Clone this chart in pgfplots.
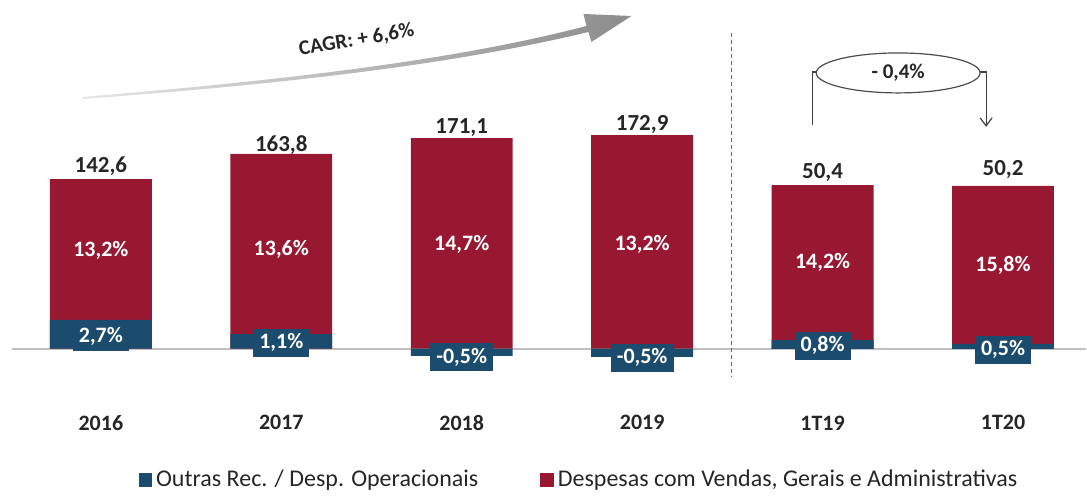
\documentclass[border=0pt]{standalone}
\usepackage{fontspec}
\setmainfont{Carlito}
\usepackage{pgfplots}
\pgfplotsset{compat=1.18}
\usetikzlibrary{arrows.meta}
\definecolor{bred}{RGB}{152,24,50}
\definecolor{bblue}{RGB}{27,76,110}
\definecolor{txt}{RGB}{38,38,38}
\pgfplotsset{base/.style={scale only axis, width=543.5pt, height=248.5pt,
  xmin=-0.559, xmax=5.46, axis lines=none, clip=false,
  ybar, bar width=51pt, bar shift=0pt}}
\tikzset{
  tot/.style={font=\fontsize{11.5}{12}\selectfont\bfseries, text=txt},
  pct/.style={font=\fontsize{11}{12}\selectfont\bfseries, text=white},
  bbox/.style={font=\fontsize{11}{12}\selectfont\bfseries, text=white, fill=bblue, inner xsep=3pt, inner ysep=2.5pt},
  yr/.style={font=\fontsize{11}{12}\selectfont\bfseries, text=txt}
}
\begin{document}
\begin{tikzpicture}
\begin{axis}[base, ymin=-124.4, ymax=293.3,
  legend style={at={(0.534,0.034)}, anchor=center, draw=none, fill=none,
    font=\fontsize{12}{13}\selectfont, text=txt, legend columns=2,
    /tikz/every even column/.append style={column sep=29pt}},
  legend image code/.code={\fill[#1] (0pt,-3.2pt) rectangle (6.4pt,3.2pt);}]
\path (rel axis cs:0,0) rectangle (rel axis cs:1,1);
\addlegendimage{bblue}\addlegendentry{Outras Rec. / Desp. Operacionais}
\addlegendimage{bred}\addlegendentry{Despesas com Vendas, Gerais e Administrativas}
\draw[black!25, line width=1pt] (axis cs:-0.493,0) -- (axis cs:5.46,0);
\addplot[fill=bred, draw=none, forget plot] table {
x y
0 142.6
1 163.8
2 177.1
3 179.7
};
\addplot[fill=bblue, draw=none, forget plot] table {
x y
0 24.2
1 12.3
2 -6.0
3 -6.8
};
\node[tot] at (axis cs:0,153.8) {142,6};
\node[tot] at (axis cs:1,171.4) {163,8};
\node[tot] at (axis cs:2,185.7) {171,1};
\node[tot] at (axis cs:3,188.2) {172,9};
\node[pct] at (axis cs:0,82.4) {13,2\%};
\node[pct] at (axis cs:1,83.2) {13,6\%};
\node[pct] at (axis cs:2,87.4) {14,7\%};
\node[pct] at (axis cs:3,87.4) {13,2\%};
\node[bbox] at (axis cs:0,10.1) {2,7\%};
\node[bbox] at (axis cs:1,5.0) {1,1\%};
\node[bbox] at (axis cs:2,-7.2) {-0,5\%};
\node[bbox] at (axis cs:3,-7.6) {-0,5\%};
\node[yr] at (axis cs:0,-62.2) {2016};
\node[yr] at (axis cs:1,-62.2) {2017};
\node[yr] at (axis cs:2,-62.2) {2018};
\node[yr] at (axis cs:3,-62.2) {2019};
\end{axis}
\begin{axis}[base, ymin=-45.5, ymax=107.4]
\addplot[fill=bred, draw=none] table {
x y
4 50.4
5 50.2
};
\addplot[fill=bblue, draw=none] table {
x y
4 2.69
5 1.54
};
\node[tot] at (axis cs:4,54.2) {50,4};
\node[tot] at (axis cs:5,55.1) {50,2};
\node[pct] at (axis cs:4,26.5) {14,2\%};
\node[pct] at (axis cs:5,25.8) {15,8\%};
\node[bbox] at (axis cs:4,0.9) {0,8\%};
\node[bbox] at (axis cs:5,-0.3) {0,5\%};
\node[yr] at (axis cs:4,-22.8) {1T19};
\node[yr] at (axis cs:5,-22.8) {1T20};
\end{axis}
\begin{scope}[x=0.5pt, y=-0.5pt, shift={(0pt,248.5pt)}]
  % CAGR arrow
  \shade[left color=black!10, right color=black!45]
    (83,97) .. controls (300,79) and (460,59) .. (587,26)
    -- (584,14) -- (632,16) -- (592,42)
    -- (589,32) .. controls (460,63) and (300,83) .. (83,99) -- cycle;
  \node[font=\fontsize{10.5}{12}\selectfont\bfseries, text=txt, rotate=9.5] at (357,40) {CAGR: + 6,6\%};
  % separator
  \draw[black!60, line width=0.7pt, dash pattern=on 2pt off 1.5pt] (732,33) -- (732,377);
  % bracket
  \draw[black!75, line width=0.6pt, -{Straight Barb[length=4pt,width=6pt]}]
    (813,125) -- (813,72) -- (987,72) -- (987,127);
  \draw[black!70, line width=0.6pt, fill=white] (899,73) ellipse [x radius=41pt, y radius=10pt];
  \node[font=\fontsize{10.5}{12}\selectfont\bfseries, text=txt] at (899,73) {- 0,4\%};
\end{scope}
\end{tikzpicture}
\end{document}
